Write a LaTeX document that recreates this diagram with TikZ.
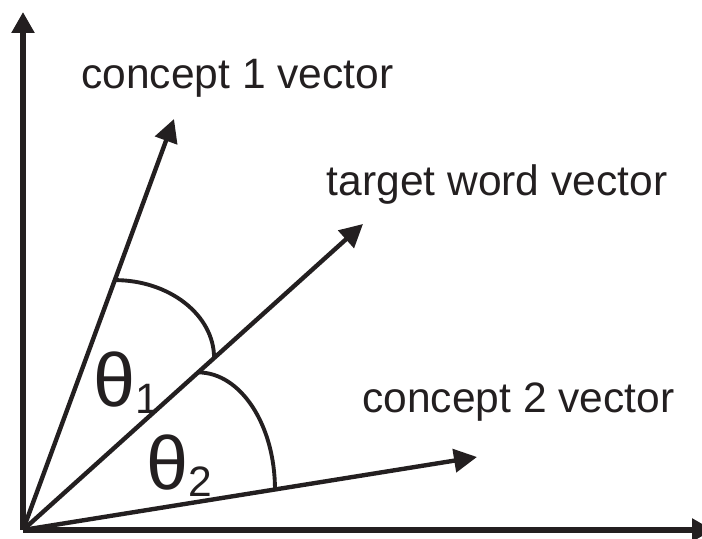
\documentclass[tikz,border=0pt]{standalone}
\usepackage{fontspec}
\setmainfont{Liberation Sans}
\usetikzlibrary{positioning,arrows.meta}
\definecolor{inkblack}{RGB}{35,31,32}

\tikzset{
  axisline/.style={line width=3.4pt,inkblack,-{Triangle[length=0.42cm,width=0.44cm]}},
  vecline/.style={line width=2.5pt,inkblack,-{Triangle[length=0.46cm,width=0.46cm]}},
  anglearc/.style={line width=2.2pt,inkblack},
  veclabel/.style={anchor=base west,inner sep=0pt,text=inkblack,font=\fontsize{24.2}{29}\selectfont},
  anglelabel/.style={anchor=base west,inner sep=0pt,text=inkblack}
}
\newcommand{\anglename}[1]{{\fontsize{43}{48}\selectfont θ}\raisebox{-0.14cm}{\fontsize{24.2}{29}\selectfont #1}}

\begin{document}
\begin{tikzpicture}
    \useasboundingbox (-0.46,-0.18) rectangle (13.58,10.6);
    \coordinate (origin) at (0,0);
    \coordinate (ytip) at (0,10.36);
    \coordinate (xtip) at (13.8,0);
    % axes
    \draw[axisline] (origin) -- (ytip);
    \draw[axisline] (origin) -- (xtip);
    % vectors
    \draw[vecline] (origin) -- (3.02,8.22) coordinate[pos=0.608] (cOneArc) coordinate (cOneTip);
    \draw[vecline] (origin) -- (6.80,6.12) coordinate[pos=0.562] (targetArcA) coordinate[pos=0.515] (targetArcB) coordinate (targetTip);
    \draw[vecline] (origin) -- (9.08,1.46) coordinate[pos=0.555] (cTwoArc) coordinate (cTwoTip);
    % angle arcs
    \draw[anglearc] (cOneArc) .. controls +(1.09,0) and +(0,0.86) .. (targetArcA);
    \draw[anglearc] (targetArcB) .. controls +(0.85,0) and +(0,1.29) .. (cTwoArc);
    % labels
    \node[veclabel] (cOneLabel) at (1.16,8.82) {concept 1 vector};
    \node[veclabel] (targetLabel) at (6.07,6.68) {target word vector};
    \node[veclabel] (cTwoLabel) at (6.78,2.34) {concept 2 vector};
    \node[anglelabel] (thetaOne) at (1.40,2.46) {\anglename{1}};
    \node[anglelabel] (thetaTwo) at (2.46,0.80) {\anglename{2}};
\end{tikzpicture}
\end{document}
